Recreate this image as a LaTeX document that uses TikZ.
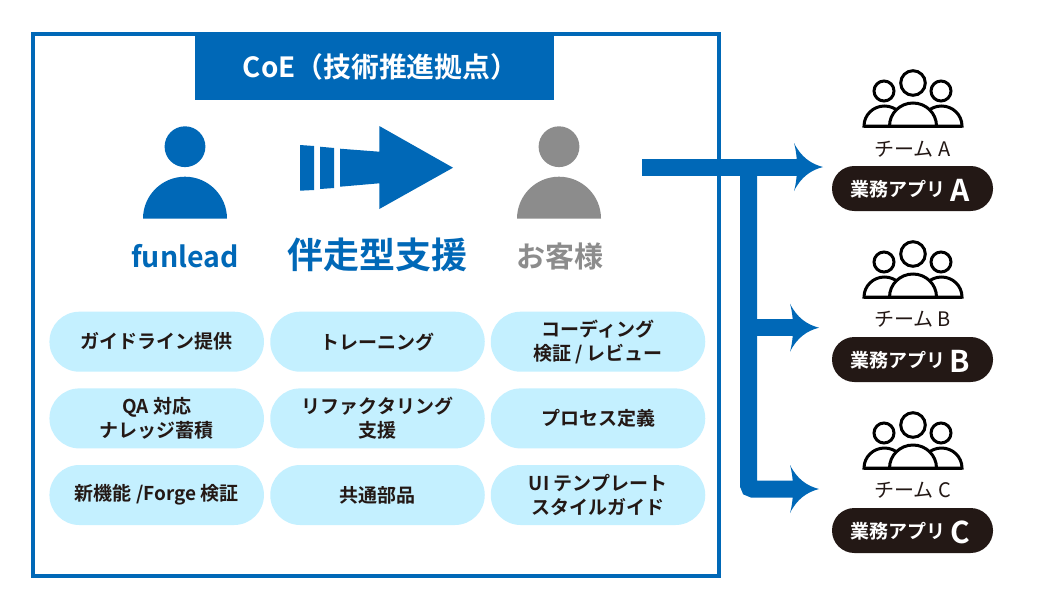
\documentclass[tikz,border=0pt]{standalone}
\usepackage{fontspec}
\setmainfont{Noto Sans CJK JP}[BoldFont={Noto Sans CJK JP Bold}]
\definecolor{fblue}{HTML}{0068B7}
\definecolor{fgray}{HTML}{8C8C8C}
\definecolor{fpale}{HTML}{C4F0FF}
\definecolor{fdark}{HTML}{231815}
\tikzset{
  px/.style={x=1pt,y=-1pt},
  person/.pic={
    \fill (0,0) circle (20.4);
    \fill (-42,72) arc[start angle=180,end angle=360,radius=42] -- cycle;
  },
  flowhead/.pic={
    \fill[fblue] (-29,-24) .. controls (-22,-10) and (-12,-3) .. (0,0)
      .. controls (-12,3) and (-22,10) .. (-29,24)
      .. controls (-25,10) and (-25,-10) .. cycle;
  },
  teamicon/.pic={
    \begin{scope}[line width=3pt,draw=black,fill=white]
      \draw (-29,8) circle (10);
      \draw (28,8) circle (10);
      \draw (0,0) circle (12.3);
      \filldraw (-49,43) arc[start angle=180,end angle=360,x radius=20.5,y radius=20] -- cycle;
      \filldraw (49,43) arc[start angle=360,end angle=180,x radius=20.5,y radius=20] -- cycle;
      \filldraw (-23.5,43) arc[start angle=180,end angle=360,x radius=23.5,y radius=23] -- cycle;
      \draw (-49,43) -- (49,43);
    \end{scope}
  },
  flow/.style={draw=fblue,line width=17pt},
  service/.style={fill=fpale,rounded corners=29.9pt,minimum width=214.5pt,minimum height=60pt,
    inner sep=0pt,align=center,text=fdark,font=\fontsize{19}{24}\selectfont\bfseries},
  teamlabel/.style={inner sep=0pt,text=fdark,font=\fontsize{20}{22}\selectfont},
  apppill/.style={fill=fdark,rounded corners=22.4pt,minimum width=161pt,minimum height=45pt,inner sep=0pt},
  appname/.style={inner sep=0pt,text=white,font=\fontsize{19}{22}\selectfont\bfseries},
  appletter/.style={inner sep=0pt,text=white,font=\fontsize{30}{32}\selectfont\bfseries},
}
\begin{document}
\begin{tikzpicture}[px]
\useasboundingbox (0,0) rectangle (1040,600);
\fill[white] (0,0) rectangle (1040,600);
% frame
\node[draw=fblue,line width=4pt,minimum width=686pt,minimum height=542pt,inner sep=0pt] (coe) at (376,305) {};
\node[fill=fblue,minimum width=359pt,minimum height=66pt,inner sep=0pt,text=white,
  font=\fontsize{27.8}{30}\selectfont\bfseries] (title) at (374.5,67) {\hspace*{12pt}CoE（技術推進拠点）};
% people
\pic[fblue] at (185,146.7) {person};
\pic[fgray] at (559,146.7) {person};
% support arrow
\fill[fblue] (300,145) -- (314,146) -- (314,190) -- (300,190.7) -- cycle;
\fill[fblue] (320,146.7) -- (334,148) -- (334,188) -- (320,189) -- cycle;
\fill[fblue] (340,148.7) -- (379.3,151.7) -- (379.3,126) -- (453,167.7) -- (379.3,209) -- (379.3,183.3) -- (340,186.7) -- cycle;
\node[inner sep=0pt,text=fblue,font=\fontsize{28.5}{30}\selectfont\bfseries] (funlead) at (185,256) {funlead};
\node[inner sep=0pt,text=fblue,font=\fontsize{36}{38}\selectfont\bfseries] (support) at (377,255) {伴走型支援};
\node[inner sep=0pt,text=fgray,font=\fontsize{29}{30}\selectfont\bfseries] (client) at (560,256) {お客様};
% services
\node[service] (s1) at (156.7,341.7) {ガイドライン提供};
\node[service] (s2) at (377.5,341.7) {トレーニング};
\node[service] (s3) at (598,341.7) {コーディング\\検証 / レビュー};
\node[service] (s4) at (156.7,418.4) {QA 対応\\ナレッジ蓄積};
\node[service] (s5) at (377.5,418.4) {リファクタリング\\支援};
\node[service] (s6) at (598,418.4) {プロセス定義};
\node[service] (s7) at (156.7,495) {新機能 /Forge 検証};
\node[service] (s8) at (377.5,495) {共通部品};
\node[service] (s9) at (598,495) {UI テンプレート\\スタイルガイド};
% teams
\pic at (913,83) {teamicon};
\pic at (913,254) {teamicon};
\pic at (913,425) {teamicon};
\node[teamlabel] (ta) at (912.5,149) {チーム A};
\node[teamlabel] (tb) at (912.5,319) {チーム B};
\node[teamlabel] (tc) at (912.5,490) {チーム C};
\node[apppill] (pa) at (912.5,188.5) {};
\node[apppill] (pb) at (912.5,359.5) {};
\node[apppill] (pc) at (912.5,530.5) {};
\node[appname] (na) at (898,189) {業務アプリ};
\node[appname] (nb) at (898,360) {業務アプリ};
\node[appname] (nc) at (898,531) {業務アプリ};
\node[appletter] (la) at (960,190) {A};
\node[appletter] (lb) at (960,361) {B};
\node[appletter] (lc) at (960,532) {C};
% connectors
\coordinate (start) at (642,167);
\coordinate (tipa) at (823,167);
\coordinate (enda) at (797,167);
\coordinate (junction) at (748.5,167);
\coordinate (branchb) at (748.5,327.7);
\coordinate (endb) at (794,327.7);
\coordinate (tipb) at (819,327.7);
\coordinate (endc) at (794,489);
\coordinate (tipc) at (819,489);
\draw[flow,rounded corners=4pt] (junction) |- (endc);
\draw[flow] (branchb) -- (endb);
\draw[flow] (start) -- (enda);
\pic at (tipa) {flowhead};
\pic at (tipb) {flowhead};
\pic at (tipc) {flowhead};
\end{tikzpicture}
\end{document}
